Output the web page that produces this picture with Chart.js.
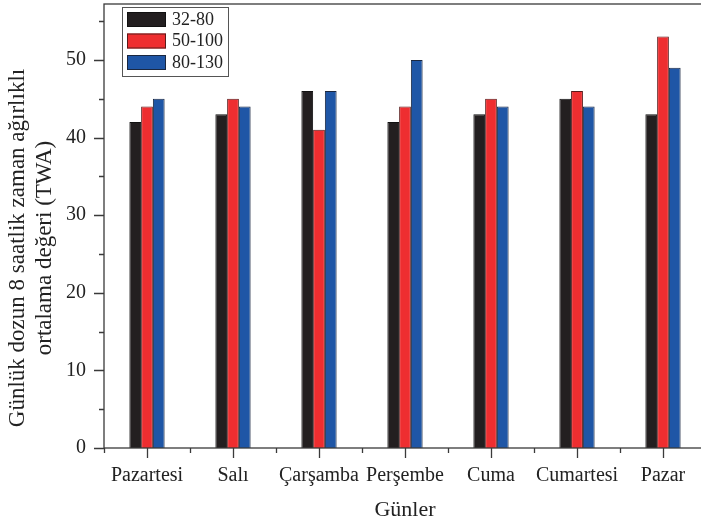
<!DOCTYPE html>
<html>
<head>
<meta charset="utf-8">
<script src="https://cdn.jsdelivr.net/npm/chart.js@4.4.1/dist/chart.umd.min.js"></script>
<style>
  html, body { margin: 0; padding: 0; background: #fff; overflow: hidden; }
  #wrap { width: 710px; height: 523px; }
</style>
</head>
<body>
<div id="wrap"><canvas id="twaChart"></canvas></div>
<script>
const days = ["Pazartesi", "Salı", "Çarşamba", "Perşembe", "Cuma", "Cumartesi", "Pazar"];
const series32_80 = [42, 43, 46, 42, 43, 45, 43];
const series50_100 = [44, 45, 41, 44, 45, 46, 53];
const series80_130 = [45, 44, 46, 50, 44, 44, 49];
const yTicks = [0, 10, 20, 30, 40, 50];

const serif = "'Liberation Serif', 'Times New Roman', serif";

// frame, ticks, legend box and axis titles
const decorations = {
    id: 'decorations',
    afterDraw(chart) {
        const ctx = chart.ctx;
        const a = chart.chartArea;
        const x = chart.scales.x;
        const y = chart.scales.y;
        ctx.save();
        ctx.strokeStyle = '#3a3a3a';
        ctx.lineWidth = 1.3;
        ctx.strokeRect(a.left, a.top, a.right - a.left, a.bottom - a.top);

        ctx.beginPath();
        // y ticks, major every 10, minor every 5
        for (let v = 0; v <= y.max; v += 5) {
            const py = Math.round(y.getPixelForValue(v)) + 0.5;
            const len = v % 10 === 0 ? 10 : 5;
            ctx.moveTo(a.left - len, py);
            ctx.lineTo(a.left, py);
        }
        // x ticks, major at centers, minor between
        for (let i = 0; i < days.length; i++) {
            const px = Math.round(x.getPixelForValue(i)) + 0.5;
            ctx.moveTo(px, a.bottom);
            ctx.lineTo(px, a.bottom + 10);
            const bx = Math.round(x.getPixelForValue(i - 0.5)) + 0.5;
            ctx.moveTo(bx, a.bottom);
            ctx.lineTo(bx, a.bottom + 5);
        }
        ctx.stroke();

        // legend
        const lx = a.left + 18, ly = a.top + 3;
        ctx.lineWidth = 1;
        ctx.strokeStyle = '#555';
        ctx.strokeRect(lx + 0.5, ly + 0.5, 106, 69);
        ctx.font = '18px ' + serif;
        ctx.textBaseline = 'middle';
        ctx.textAlign = 'left';
        chart.data.datasets.forEach((ds, i) => {
            const ry = ly + 5 + i * 21.5;
            ctx.fillStyle = ds.backgroundColor;
            ctx.fillRect(lx + 5, ry, 39, 15);
            ctx.strokeStyle = ds.borderColor;
            ctx.strokeRect(lx + 5.5, ry + 0.5, 38, 14);
            ctx.fillStyle = '#222';
            ctx.fillText(ds.label, lx + 50, ry + 8);
        });

        // axis titles
        ctx.fillStyle = '#222';
        ctx.font = '22px ' + serif;
        ctx.textAlign = 'center';
        ctx.fillText('Günler', (a.left + 706) / 2, 510);
        ctx.font = '23px ' + serif;
        ctx.translate(0, 248);
        ctx.rotate(-Math.PI / 2);
        ctx.fillText('Günlük dozun 8 saatlik zaman ağırlıklı', 0, 18);
        ctx.fillText('ortalama değeri (TWA)', 0, 45);
        ctx.restore();
    }
};

new Chart(
    document.getElementById('twaChart'),
    {
        type: 'bar',
        data: {
            labels: days,
            datasets: [
                { label: '32-80', data: series32_80, backgroundColor: '#231f20', borderColor: '#111111' },
                { label: '50-100', data: series50_100, backgroundColor: '#ee2e30', borderColor: '#5a1a1a' },
                { label: '80-130', data: series80_130, backgroundColor: '#1f56a6', borderColor: '#1a2740' }
            ]
        },
        options: {
            responsive: true,
            maintainAspectRatio: false,
            animation: false,
            layout: { padding: { top: 4, right: 4, left: 0, bottom: 0 } },
            datasets: {
                bar: { borderWidth: 1, barPercentage: 1, categoryPercentage: 0.41 }
            },
            plugins: {
                legend: { display: false },
                tooltip: { enabled: false },
                datalabels: { display: false }
            },
            scales: {
                x: {
                    grid: { display: false },
                    border: { display: false },
                    ticks: { color: '#222', font: { family: serif, size: 20 }, padding: 8, maxRotation: 0 },
                    afterFit(scale) {
                        scale.height = 75;
                        scale.paddingLeft = 0;
                        scale.paddingRight = 0;
                    }
                },
                y: {
                    min: 0,
                    max: 57.2,
                    grid: { display: false },
                    border: { display: false },
                    afterBuildTicks(scale) { scale.ticks = yTicks.map(v => ({ value: v })); },
                    ticks: { color: '#222', font: { family: serif, size: 20 }, padding: 10 },
                    afterFit(scale) {
                        scale.width = 104;
                        scale.paddingTop = 0;
                        scale.paddingBottom = 0;
                    }
                }
            }
        },
        plugins: [decorations]
    }
);
</script>
</body>
</html>
